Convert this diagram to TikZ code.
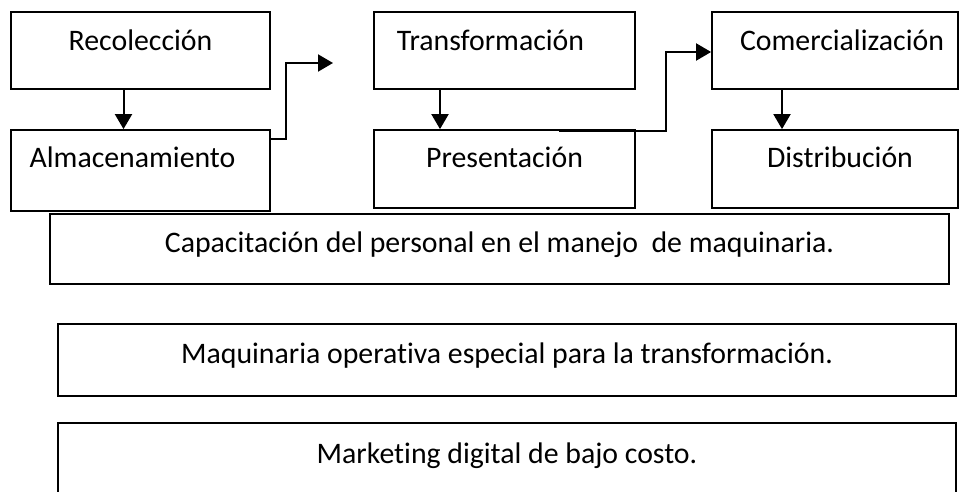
\documentclass[tikz,border=0pt]{standalone}
\usepackage{fontspec}
\setmainfont{Carlito}[Ligatures={NoCommon,NoContextual}]
\usetikzlibrary{arrows.meta}
\tikzset{
	caja/.style={draw,line width=1.8pt,font=\fontsize{29.8}{35}\selectfont,text height=20pt,text depth=20pt,inner sep=0pt},
	flecha/.style={line width=2pt,-{Triangle[length=15pt,width=17pt]}}
}
\begin{document}
\begin{tikzpicture}[x=1pt,y=-1pt]
		\useasboundingbox (0,0) rectangle (960,492);
		\clip (0,0) rectangle (960,492);
		\node[caja,minimum width=259pt,minimum height=77pt] (rec) at (140.5,50.5) {Recolecci\'on};
		\node[caja,minimum width=259pt,minimum height=81pt,text depth=26pt] (alm) at (140.5,170.5) {Almacenamiento\hspace*{16pt}};
		\node[caja,minimum width=261pt,minimum height=77pt] (tra) at (504.5,50.5) {Transformaci\'on\hspace*{28pt}};
		\node[caja,minimum width=261pt,minimum height=78pt,text depth=24pt] (pre) at (504.5,169) {Presentaci\'on};
		\node[caja,minimum width=246pt,minimum height=77pt] (com) at (835,50.5) {\hspace*{14pt}Comercializaci\'on};
		\node[caja,minimum width=246pt,minimum height=78pt,text depth=24pt] (dis) at (835,169) {\hspace*{10pt}Distribuci\'on};
		\node[caja,minimum width=899pt,minimum height=70pt,text height=23pt,text depth=17pt] (cap) at (499.5,249) {Capacitaci\'on del personal en el manejo \ de maquinaria.};
		\node[caja,minimum width=898pt,minimum height=72pt,text height=23pt,text depth=17pt] (maq) at (507,360) {Maquinaria operativa especial para la transformaci\'on.};
		\node[caja,minimum width=898pt,minimum height=72pt,text height=24pt,text depth=16pt] (mar) at (507,459) {Marketing digital de bajo costo.};
		\coordinate (t1) at (333,63);
		\draw[flecha] ([xshift=-17pt]rec.south) -- ([xshift=-17pt]alm.north);
		\draw[flecha] ([xshift=-64.5pt]tra.south) -- ([xshift=-64.5pt]pre.north);
		\draw[flecha] ([xshift=-53pt]com.south) -- ([xshift=-53pt]dis.north);
		\draw[flecha] ([yshift=-10pt]alm.north east) -- ++(15,0) |- (t1);
		\draw[flecha] ([xshift=54.5pt,yshift=-2pt]pre.north) -- ++(107,0) |- ([yshift=-1.5pt]com.west);
	\end{tikzpicture}
\end{document}
